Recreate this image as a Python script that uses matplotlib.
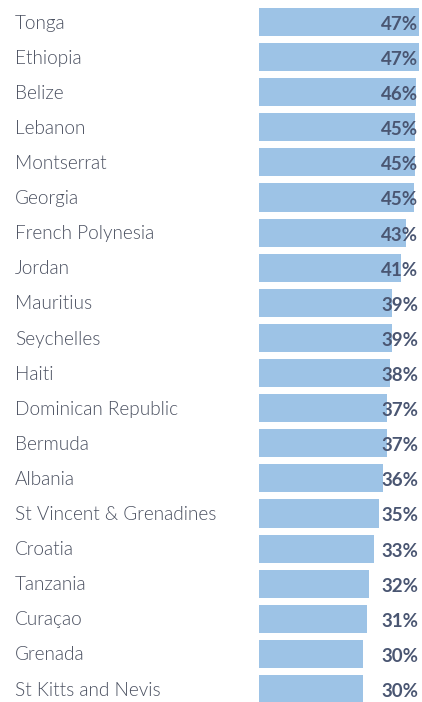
import matplotlib.pyplot as plt
from matplotlib import transforms

countries = ["Tonga", "Ethiopia", "Belize", "Lebanon", "Montserrat", "Georgia",
             "French Polynesia", "Jordan", "Mauritius", "Seychelles", "Haiti",
             "Dominican Republic", "Bermuda", "Albania", "St Vincent & Grenadines",
             "Croatia", "Tanzania", "Curaçao", "Grenada", "St Kitts and Nevis"]
values = [46.7, 46.7, 45.8, 45.4, 45.4, 45.2, 42.9, 41.4, 38.8, 38.8, 38.2,
          37.4, 37.4, 36.2, 35.0, 33.4, 32.1, 31.4, 30.4, 30.3]

bar_color = "#9dc3e6"
label_color = "#4a5060"
value_color = "#4a5672"

fig = plt.figure(figsize=(4.22, 7.02), dpi=100)
ax = fig.add_axes([259 / 422, 0, 163 / 422, 1])

y = list(range(len(countries)))
ax.barh(y, values, height=0.8, color=bar_color)
ax.set_xlim(0, 163 / 3.43)
ax.set_ylim(19.37, -0.627)
ax.axis("off")

# country labels on the left
tr_left = transforms.blended_transform_factory(fig.transFigure, ax.transData)
for i, name in enumerate(countries):
    ax.text(15 / 422, i + 0.03, name, transform=tr_left, ha="left", va="center",
            fontsize=13.7, family="Lato", fontweight=300, color=label_color,
            clip_on=False)

# values on the right
tr_right = transforms.blended_transform_factory(ax.transAxes, ax.transData)
for i, v in enumerate(values):
    ax.text(0.978, i + 0.07, f"{round(v)}%", transform=tr_right, ha="right", va="center",
            fontsize=13.5, family="Lato", fontweight="bold", color=value_color)

fig.savefig("out.png", dpi=100)
